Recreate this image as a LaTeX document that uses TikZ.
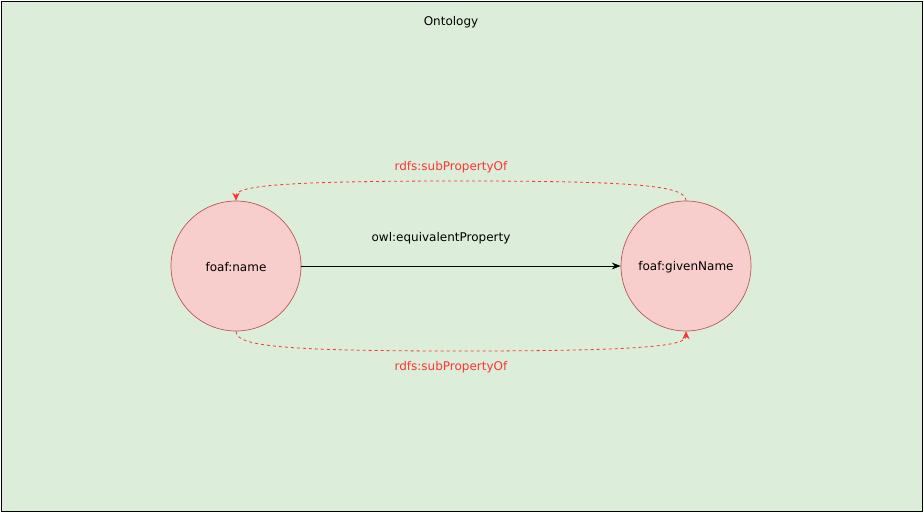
\documentclass[tikz,border=0pt]{standalone}
\usepackage{fontspec}
\setmainfont{DejaVu Sans}
\usetikzlibrary{arrows.meta}
\definecolor{bggreen}{HTML}{DCEEDA}
\definecolor{nodefill}{HTML}{F8CECC}
\definecolor{nodestroke}{HTML}{B85450}
\definecolor{relred}{HTML}{FF3333}
\tikzset{
  concept/.style={circle, draw=nodestroke, fill=nodefill, line width=0.5pt, minimum size=97.5pt, inner sep=0pt, font=\fontsize{9}{11}\selectfont},
  lbl/.style={font=\fontsize{9}{11}\selectfont, inner sep=1pt},
  sublink/.style={draw=relred, dashed, dash pattern=on 2.25pt off 2.25pt, line width=0.6pt, -{Stealth[length=6pt,width=5.5pt,inset=2pt]}, fill=none},
  eqlink/.style={draw=black, line width=0.75pt, -{Stealth[length=6.5pt,width=5pt,inset=2pt]}}
}
\begin{document}
\begin{tikzpicture}[x=0.75pt,y=-0.75pt]
\useasboundingbox (0,0) rectangle (924,514);
\node[draw=black, fill=bggreen, line width=0.75pt, minimum width=921*0.75pt, minimum height=510*0.75pt, inner sep=0pt, anchor=north west] (frame) at (1,1) {};
\node[lbl] (title) at (451,22.5) {Ontology};
\node[concept] (nm) at (236,266) {};
\node[lbl] (nmtext) at (236,267.5) {foaf:name};
\node[concept] (gn) at (686,266) {};
\node[lbl] (gntext) at (686,267.5) {foaf:givenName};
\draw[eqlink] (nm.east) -- (gn.west);
\node[lbl] (eqlbl) at (441,238.5) {owl:equivalentProperty};
\draw[sublink] (gn.north) .. controls (686,186) and (640,181) .. (461,181) .. controls (280,181) and (236,186) .. (nm.north);
\node[lbl, text=relred] (uplbl) at (451,167.5) {rdfs:subPropertyOf};
\draw[sublink] (nm.south) .. controls (236,346) and (280,351) .. (461,351) .. controls (640,351) and (686,346) .. (gn.south);
\node[lbl, text=relred] (lowlbl) at (451,367.5) {rdfs:subPropertyOf};
\end{tikzpicture}
\end{document}
